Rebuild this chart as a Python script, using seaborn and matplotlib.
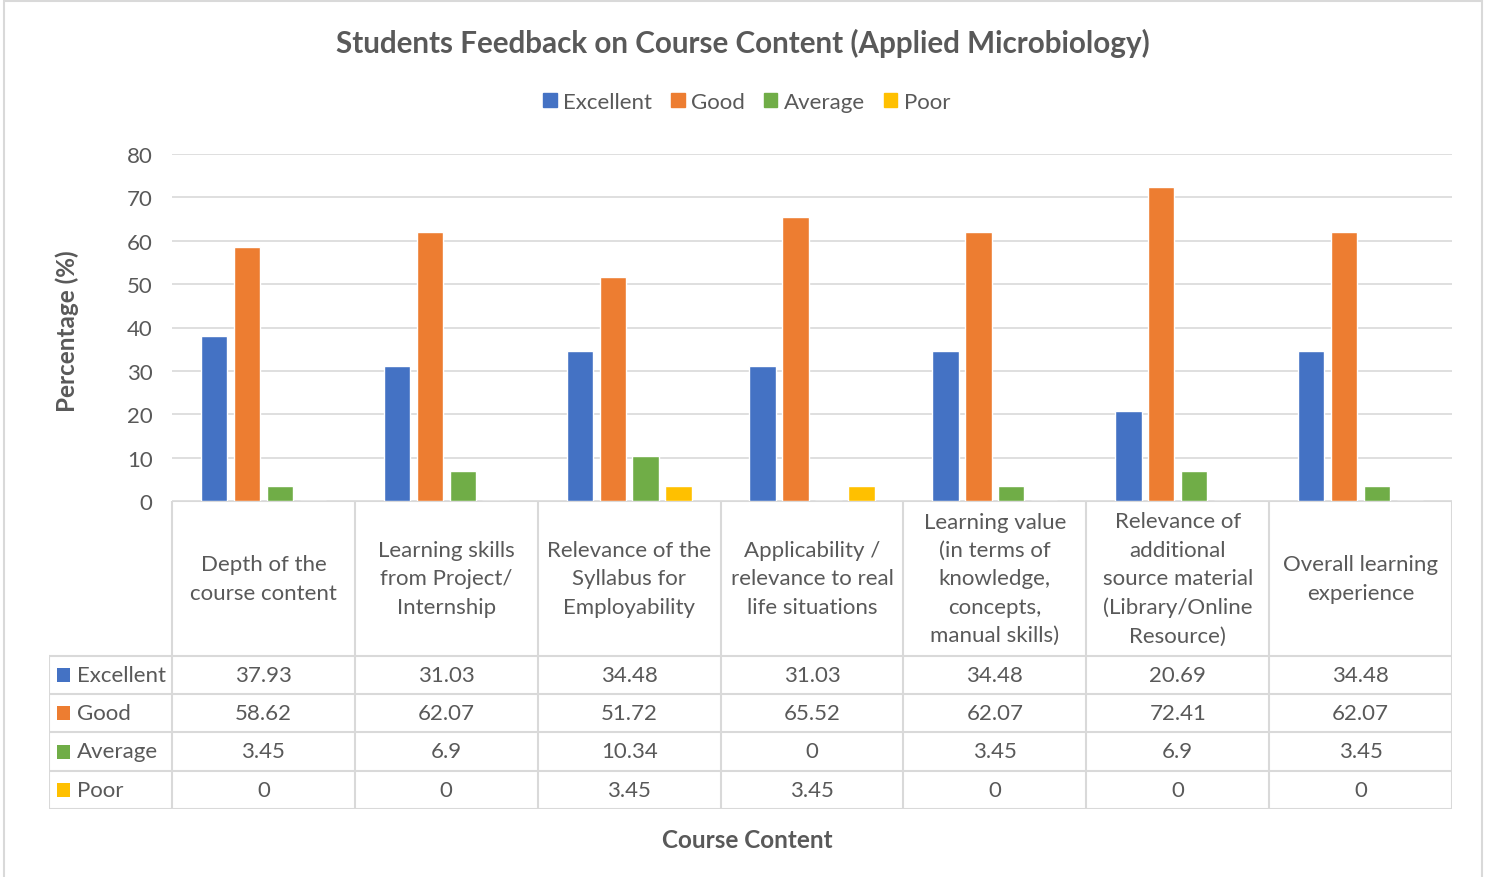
import numpy as np
import pandas as pd
import matplotlib
matplotlib.use("Agg")
import matplotlib.pyplot as plt
import seaborn as sns
from matplotlib.patches import Rectangle

# data
categories = [
    "Depth of the\ncourse content",
    "Learning skills\nfrom Project/\nInternship",
    "Relevance of the\nSyllabus for\nEmployability",
    "Applicability /\nrelevance to real\nlife situations",
    "Learning value\n(in terms of\nknowledge,\nconcepts,\nmanual skills)",
    "Relevance of\nadditional\nsource material\n(Library/Online\nResource)",
    "Overall learning\nexperience",
]
ratings = ["Excellent", "Good", "Average", "Poor"]
excellent = [37.93, 31.03, 34.48, 31.03, 34.48, 20.69, 34.48]
good = [58.62, 62.07, 51.72, 65.52, 62.07, 72.41, 62.07]
average = [3.45, 6.9, 10.34, 0, 3.45, 6.9, 3.45]
poor = [0, 0, 3.45, 3.45, 0, 0, 0]
colors = ["#4472C4", "#ED7D31", "#70AD47", "#FFC000"]

series = {"Excellent": excellent, "Good": good, "Average": average, "Poor": poor}
rows = []
for r in ratings:
    for c, v in zip(categories, series[r]):
        rows.append({"Category": c, "Rating": r, "Percentage": v})
df = pd.DataFrame(rows)

sns.set_style("white")
plt.rcParams["font.family"] = ["Lato", "DejaVu Sans"]
txt = "#595959"
grid = "#D9D9D9"

W, H = 1490, 878
fig = plt.figure(figsize=(W / 100, H / 100), dpi=100)

def box(x0, y0, x1, y1):
    return [x0 / W, 1 - y1 / H, (x1 - x0) / W, (y1 - y0) / H]

ax = fig.add_axes(box(172, 155, 1452, 502))
sns.barplot(data=df, x="Category", y="Percentage", hue="Rating",
            hue_order=ratings, palette=colors, order=categories,
            width=0.72, gap=0.2, ax=ax, legend=False, saturation=1)
ax.set_xlim(-0.5, len(categories) - 0.5)
ax.set_ylim(0, 80)
ax.set_yticks(np.arange(0, 81, 10))
ax.yaxis.grid(True, color=grid, linewidth=1.2)
ax.set_axisbelow(True)
for s in ax.spines.values():
    s.set_visible(False)
ax.set_xticks([])
ax.set_xlabel("")
ax.set_ylabel("")
ax.tick_params(axis="y", length=0, pad=14, labelsize=16, labelcolor=txt)

fig.text(67 / W, 1 - 331 / H, "Percentage (%)", rotation=90, ha="center",
         va="center", fontsize=17.5, fontweight="bold", color=txt)
fig.text(743 / W, 1 - 43 / H, "Students Feedback on Course Content (Applied Microbiology)",
         ha="center", va="center", fontsize=21.3, fontweight="bold", color=txt)
fig.text(747 / W, 1 - 841 / H, "Course Content", ha="center", va="center",
         fontsize=17.5, fontweight="bold", color=txt)

# legend
handles = [Rectangle((0, 0), 1, 1, color=c) for c in colors]
fig.legend(handles, ratings, loc="center", bbox_to_anchor=(747 / W, 1 - 103 / H),
           ncol=4, frameon=False, fontsize=16, labelcolor=txt,
           handlelength=0.6, handleheight=0.6, handletextpad=0.3, columnspacing=0.85)

# data table below the bars
row_w = 123 / (1280 / len(categories))
tab = fig.add_axes(box(49, 502, 1452, 810))
tab.set_xlim(-0.5 - row_w, len(categories) - 0.5)
tab.set_ylim(810, 502)
tab.axis("off")
lc = dict(color=grid, linewidth=1.5)
ys = [502, 657, 695, 733, 772, 810]
tab.plot([-0.5, len(categories) - 0.5], [ys[0], ys[0]], **lc)
for y in ys[1:]:
    tab.plot([-0.5 - row_w, len(categories) - 0.5], [y, y], **lc)
for i in range(len(categories) + 1):
    tab.plot([i - 0.5, i - 0.5], [ys[0], ys[-1]], **lc)
tab.plot([-0.5 - row_w, -0.5 - row_w], [ys[1], ys[-1]], **lc)

for i, c in enumerate(categories):
    tab.text(i, (ys[0] + ys[1]) / 2, c, ha="center", va="center",
             fontsize=16, color=txt, linespacing=1.52)
for j, r in enumerate(ratings):
    yc = (ys[j + 1] + ys[j + 2]) / 2
    tab.add_patch(Rectangle((-0.5 - row_w + 8 / 182.86, yc - 7), 13 / 182.86, 14,
                            color=colors[j], lw=0))
    tab.text(-0.5 - row_w + 28 / 182.86, yc, r, ha="left", va="center",
             fontsize=16, color=txt)
    for i, v in enumerate(series[r]):
        tab.text(i, yc, f"{v:g}", ha="center", va="center", fontsize=16, color=txt)

# outer chart border
fig.patches.append(Rectangle((4 / W, -0.01), 1478 / W, 1 - 2 / H + 0.01,
                             transform=fig.transFigure, fill=False,
                             edgecolor=grid, linewidth=1.5))

fig.savefig("out.png", dpi=100)
